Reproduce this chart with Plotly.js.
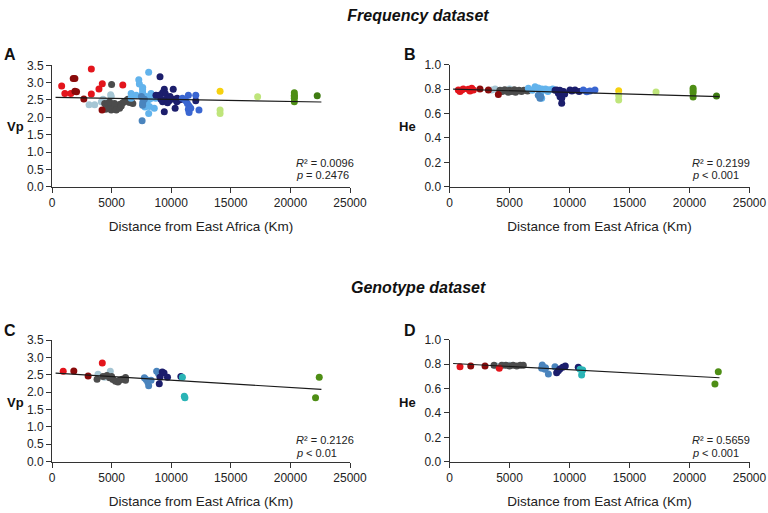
<!DOCTYPE html>
<html>
<head>
<meta charset="utf-8">
<script src="https://cdn.plot.ly/plotly-3.0.1.min.js"></script>
<style>html,body{margin:0;padding:0;background:#fff}#chart{width:768px;height:513px}</style>
</head>
<body>
<div id="chart"></div>
<script>
// ---------- DATA ----------
// Panel A: Frequency dataset, Vp
var aDist = [810,1080,1580,3300,3940,4220,5940,3300,
  1780,1920,1920,2060,2670,4200,
  3110,3580,4280,4920,4970,4500,4140,
  4420,4560,4830,4970,5250,5530,5720,5940,6220,6640,6780,4500,5110,5390,4690,5670,5000,6360,6080,4830,5250,5810,6500,
  7330,7610,7280,8110,6640,7060,6640,7600,7600,7600,7600,7650,7700,7750,8170,8580,8110,8310,8440,8310,8170,7900,8000,8700,7800,
  7560,7610,7750,7600,7500,
  9060,9420,9280,9500,9000,8720,9140,9610,9830,10670,10940,10250,9280,9690,10470,9420,10170,10330,12060,9900,10500,
  11220,11360,11500,11440,11500,12060,12330,10940,11440,11640,
  14100,
  14100,14100,17250,
  20330,20330,20330,20330,20330,
  22250];
var aVal = [2.90,2.69,2.69,2.67,2.82,2.97,2.93,3.39,
  3.12,3.12,2.75,2.74,2.53,2.21,
  2.36,2.36,2.52,2.65,2.60,2.44,2.45,
  2.40,2.33,2.29,2.21,2.26,2.33,2.38,2.42,2.48,2.45,2.40,2.23,2.38,2.21,2.40,2.26,2.95,2.52,2.45,2.44,2.40,2.33,2.43,
  2.96,2.86,3.08,3.30,2.55,2.64,2.69,2.80,2.72,2.65,2.58,2.50,2.45,2.38,2.31,2.26,2.11,2.55,2.59,2.69,2.52,2.60,2.48,2.55,2.30,
  1.90,2.42,2.52,2.35,2.60,
  3.17,2.81,2.71,2.69,2.64,2.64,2.52,2.52,2.48,2.50,2.52,2.52,2.45,2.42,2.45,2.16,2.81,2.26,2.48,2.60,2.55,
  2.48,2.40,2.33,2.23,2.14,2.64,2.21,2.55,2.64,2.26,
  2.75,
  2.21,2.11,2.59,
  2.71,2.64,2.60,2.55,2.45,
  2.62];
var aGroup = ['red','red','red','red','red','red','red','red',
  'darkred','darkred','darkred','darkred','darkred','darkred',
  'ltb','ltb','ltb','ltb','ltb','ltb','ltb',
  'gray','gray','gray','gray','gray','gray','gray','gray','gray','gray','gray','gray','gray','gray','gray','gray','gray','gray','gray','gray','gray','gray','gray',
  'sky','sky','sky','sky','sky','sky','sky','sky','sky','sky','sky','sky','sky','sky','sky','sky','sky','sky','sky','sky','sky','sky','sky','sky','sky',
  'steel','steel','steel','steel','steel',
  'navy','navy','navy','navy','navy','navy','navy','navy','navy','navy','navy','navy','navy','navy','navy','navy','navy','navy','navy','navy','navy',
  'royal','royal','royal','royal','royal','royal','royal','royal','royal','royal',
  'yellow',
  'lgreen','lgreen','lgreen',
  'olive','olive','olive','olive','olive',
  'dgreen'];

// Panel B: Frequency dataset, He
var bDist = [735,1020,1570,1710,1990,1850,875,1150,
  2540,3240,4070,
  3510,3800,4300,5000,
  4200,4400,4600,4800,5000,5200,5400,5600,5800,6000,6200,6500,4900,5500,
  6570,7130,7400,7700,8000,8300,8600,7800,7600,7680,7540,8200,6900,
  7400,7540,7600,
  8930,9070,9210,9350,9350,10040,10460,10800,9500,9200,9600,8800,10200,
  11150,11430,12120,11700,
  14100,
  14100,14100,17210,
  20300,20300,20300,20300,
  22250];
var bVal = [0.793,0.793,0.798,0.784,0.793,0.807,0.780,0.800,
  0.800,0.793,0.755,
  0.793,0.800,0.790,0.800,
  0.790,0.780,0.795,0.785,0.790,0.780,0.795,0.785,0.790,0.780,0.790,0.785,0.775,0.775,
  0.806,0.820,0.810,0.800,0.800,0.795,0.800,0.790,0.770,0.725,0.752,0.780,0.790,
  0.750,0.724,0.740,
  0.793,0.766,0.738,0.684,0.724,0.793,0.793,0.780,0.780,0.790,0.760,0.790,0.785,
  0.793,0.779,0.793,0.785,
  0.787,
  0.746,0.711,0.777,
  0.807,0.789,0.770,0.735,
  0.744];
var bGroup = ['red','red','red','red','red','red','red','red',
  'darkred','darkred','darkred',
  'ltb','ltb','ltb','ltb',
  'gray','gray','gray','gray','gray','gray','gray','gray','gray','gray','gray','gray','gray','gray',
  'sky','sky','sky','sky','sky','sky','sky','sky','sky','sky','sky','sky','sky',
  'steel','steel','steel',
  'navy','navy','navy','navy','navy','navy','navy','navy','navy','navy','navy','navy','navy',
  'royal','royal','royal','royal',
  'yellow',
  'lgreen','lgreen','lgreen',
  'olive','olive','olive','olive',
  'dgreen'];

// Panel C: Genotype dataset, Vp
var cDist = [940,4220,
  1830,3030,
  3860,4890,4400,
  3780,4280,4610,4830,5110,5330,5530,5670,5890,6170,6170,5000,
  7750,7890,8030,8310,8110,8780,8940,
  9060,9000,9250,9400,9690,10810,
  10940,11100,11150,
  22420,22110];
var cVal = [2.60,2.84,
  2.61,2.46,
  2.51,2.60,2.43,
  2.37,2.45,2.48,2.41,2.36,2.31,2.29,2.34,2.37,2.42,2.34,2.45,
  2.41,2.36,2.29,2.34,2.18,2.60,2.53,
  2.43,2.24,2.58,2.55,2.43,2.45,
  2.43,1.88,1.84,
  2.43,1.84];
var cGroup = ['red','red',
  'darkred','darkred',
  'ltb','ltb','ltb',
  'gray','gray','gray','gray','gray','gray','gray','gray','gray','gray','gray','gray',
  'steel','steel','steel','steel','steel','steel','steel',
  'navy','navy','navy','navy','navy','navy',
  'teal','teal','teal',
  'olive','olive'];

// Panel D: Genotype dataset, He
var dDist = [875,4150,
  1770,2960,
  3900,4500,5000,
  3710,4350,4700,5000,5300,5600,5900,6150,
  7730,7680,7960,8240,8790,8000,
  8930,9070,9430,9650,10730,9200,
  10880,11100,11010,
  22400,22120];
var dVal = [0.779,0.765,
  0.784,0.784,
  0.785,0.790,0.790,
  0.790,0.790,0.790,0.785,0.790,0.785,0.790,0.790,
  0.793,0.765,0.757,0.719,0.779,0.770,
  0.730,0.746,0.774,0.784,0.774,0.760,
  0.757,0.752,0.711,
  0.738,0.637];
var dGroup = ['red','red',
  'darkred','darkred',
  'ltb','ltb','ltb',
  'gray','gray','gray','gray','gray','gray','gray','gray',
  'steel','steel','steel','steel','steel','steel',
  'navy','navy','navy','navy','navy','navy',
  'teal','teal','teal',
  'olive','olive'];

// Regression fits (intercept, slope per km) and fitted distance span
var fitIntercept = [2.576, 0.801, 2.552, 0.807];
var fitSlope = [-0.0000060, -0.0000028, -0.0000210, -0.0000053];
var fitStart = [300, 300, 300, 300];
var fitEnd = [22600, 22500, 22600, 22500];

var fitR2 = ['0.0096', '0.2199', '0.2126', '0.5659'];
var fitP = ['= 0.2476', '< 0.001', '< 0.01', '< 0.001'];
var panelLetters = ['A', 'B', 'C', 'D'];
var yLabels = ['Vp', 'He', 'Vp', 'He'];
var xTickVals = [0, 5000, 10000, 15000, 20000, 25000];
var xTickText = ['0', '5000', '10000', '15000', '20000', '25000'];

// ---------- STYLE ----------
var groupColors = {
  red: '#e3151c', darkred: '#8a0b0b', ltb: '#a6c6d4', gray: '#4c4c4c',
  sky: '#62b3ec', steel: '#4a84bd', navy: '#1c1e6c', royal: '#3a66d1',
  yellow: '#f6d10f', lgreen: '#bfe57b', olive: '#4e8e15', dgreen: '#3f7c12',
  teal: '#2ab4b6'
};
var groupOrder = ['ltb','gray','red','darkred','sky','steel','navy','royal','yellow','lgreen','olive','dgreen','teal'];

var panels = [
  {dist: aDist, val: aVal, grp: aGroup, xa: 'x', ya: 'y'},
  {dist: bDist, val: bVal, grp: bGroup, xa: 'x2', ya: 'y2'},
  {dist: cDist, val: cVal, grp: cGroup, xa: 'x3', ya: 'y3'},
  {dist: dDist, val: dVal, grp: dGroup, xa: 'x4', ya: 'y4'}
];

var traces = [];
panels.forEach(function(p, i) {
  groupOrder.forEach(function(g) {
    var xs = [], ys = [];
    for (var k = 0; k < p.dist.length; k++) {
      if (p.grp[k] === g) { xs.push(p.dist[k]); ys.push(p.val[k]); }
    }
    if (xs.length) {
      traces.push({type: 'scatter', mode: 'markers', x: xs, y: ys, xaxis: p.xa, yaxis: p.ya,
        marker: {color: groupColors[g], size: 7, line: {width: 0}}, showlegend: false, hoverinfo: 'x+y'});
    }
  });
  var lx = [fitStart[i], fitEnd[i]];
  var ly = lx.map(function(d) { return fitIntercept[i] + fitSlope[i] * d; });
  traces.push({type: 'scatter', mode: 'lines', x: lx, y: ly, xaxis: p.xa, yaxis: p.ya,
    line: {color: '#1a1a1a', width: 1.1}, showlegend: false, hoverinfo: 'skip'});
});

var W = 768, H = 513;
function xd(a, b) { return [a / W, b / W]; }
function yd(top, bottom) { return [(H - bottom) / H, (H - top) / H]; }

var FAM = 'Liberation Sans, Arial, sans-serif';
var tickFont = {family: FAM, size: 12, color: '#222'};
function xAxis(dom, anchor) {
  return {domain: dom, anchor: anchor, range: [0, 25000], tickmode: 'array', tickvals: xTickVals, ticktext: xTickText,
    showline: true, linecolor: '#333', linewidth: 1, ticks: 'outside', ticklen: 5, tickcolor: '#333',
    showgrid: false, zeroline: false, tickfont: tickFont, fixedrange: true,
    title: {text: 'Distance from East Africa (Km)', font: {family: FAM, size: 13.5, color: '#222'}, standoff: 12}};
}
function yAxis(dom, anchor, maxv, dt) {
  return {domain: dom, anchor: anchor, range: [0, maxv], dtick: dt, tick0: 0, tickformat: '.1f',
    showline: true, linecolor: '#333', linewidth: 1, ticks: 'outside', ticklen: 5, tickcolor: '#333',
    showgrid: false, zeroline: false, tickfont: tickFont, fixedrange: true};
}

var L = {
  width: W, height: H, margin: {l: 0, r: 0, t: 0, b: 0},
  paper_bgcolor: '#fff', plot_bgcolor: '#fff',
  font: {family: FAM, size: 12, color: '#222'},
  title: {text: 'Frequency dataset', font: {family: FAM, size: 16, color: '#111', weight: 'bold', style: 'italic'}, x: 418 / W, xanchor: 'center', y: 1 - 15 / H, yanchor: 'middle'},
  xaxis: xAxis(xd(52, 350), 'y'),
  yaxis: yAxis(yd(65.3, 186.7), 'x', 3.5, 0.5),
  xaxis2: xAxis(xd(449.5, 749.5), 'y2'),
  yaxis2: yAxis(yd(64.7, 186.7), 'x2', 1.0, 0.2),
  xaxis3: xAxis(xd(52, 350), 'y3'),
  yaxis3: yAxis(yd(340, 461.5), 'x3', 3.5, 0.5),
  xaxis4: xAxis(xd(449.5, 749.5), 'y4'),
  yaxis4: yAxis(yd(339.7, 461.7), 'x4', 1.0, 0.2),
  annotations: []
};

L.annotations.push({text: 'Genotype dataset', xref: 'paper', yref: 'paper', x: 418 / W, y: 1 - 287 / H,
  xanchor: 'center', yanchor: 'middle', showarrow: false, font: {family: FAM, size: 16, color: '#111', weight: 'bold', style: 'italic'}});

var letterPos = [[10, 54], [410, 54], [10, 330], [410, 330]];
var labelPos = [[15, 126], [407, 126], [15, 402], [407, 402]];
var statX = [20300, 20000, 20300, 20000];
var statY = [[0.68, 0.34], [0.194, 0.096], [0.62, 0.24], [0.178, 0.071]];
var axRefs = [['x', 'y'], ['x2', 'y2'], ['x3', 'y3'], ['x4', 'y4']];
var statFont = {family: FAM, size: 11, color: '#222'};
var statFontI = {family: FAM, size: 11, color: '#222', style: 'italic'};
for (var i = 0; i < 4; i++) {
  L.annotations.push({text: panelLetters[i], xref: 'paper', yref: 'paper',
    x: letterPos[i][0] / W, y: 1 - letterPos[i][1] / H, xanchor: 'center', yanchor: 'middle', showarrow: false,
    font: {family: FAM, size: 16, color: '#111', weight: 'bold'}});
  L.annotations.push({text: yLabels[i], xref: 'paper', yref: 'paper',
    x: labelPos[i][0] / W, y: 1 - labelPos[i][1] / H, xanchor: 'center', yanchor: 'middle', showarrow: false,
    font: {family: FAM, size: 13, color: '#111', weight: 'bold'}});
  // R² line: italic R, then superscript 2 and value
  L.annotations.push({text: 'R', xref: axRefs[i][0], yref: axRefs[i][1],
    x: statX[i], y: statY[i][0], xanchor: 'left', yanchor: 'middle', showarrow: false, font: statFontI});
  L.annotations.push({text: '² = ' + fitR2[i], xref: axRefs[i][0], yref: axRefs[i][1],
    x: statX[i], y: statY[i][0], xanchor: 'left', yanchor: 'middle', xshift: 8, showarrow: false, font: statFont});
  // p line: italic p, then comparison
  L.annotations.push({text: 'p', xref: axRefs[i][0], yref: axRefs[i][1],
    x: statX[i], y: statY[i][1], xanchor: 'left', yanchor: 'middle', showarrow: false, font: statFontI});
  L.annotations.push({text: fitP[i], xref: axRefs[i][0], yref: axRefs[i][1],
    x: statX[i], y: statY[i][1], xanchor: 'left', yanchor: 'middle', xshift: 10, showarrow: false, font: statFont});
}

Plotly.newPlot('chart', traces, L, {staticPlot: true, displayModeBar: false});
</script>
</body>
</html>
